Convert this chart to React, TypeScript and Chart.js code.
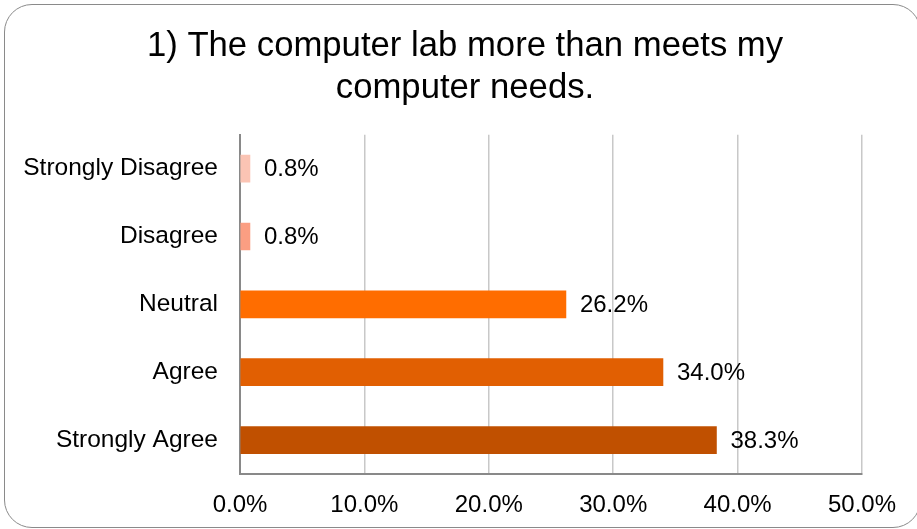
import React, { useEffect, useRef } from "react";
import { Chart, registerables } from "chart.js";

Chart.register(...registerables);

const titleLines = ["1) The computer lab more than meets my", "computer needs."];
const categories = ["Strongly Disagree", "Disagree", "Neutral", "Agree", "Strongly Agree"];
const values = [0.8, 0.8, 26.2, 34.0, 38.3];
const barColors = ["#FBC4B4", "#FB9E82", "#FF6D00", "#E15F02", "#C05000"];
const xTicks = [0, 10, 20, 30, 40, 50];

const FONT = "'Liberation Sans', Arial, sans-serif";

const dataLabelPlugin = {
  id: "dataLabels",
  afterDatasetsDraw(chart: any) {
    const ctx = chart.ctx;
    const meta = chart.getDatasetMeta(0);
    ctx.save();
    ctx.font = `24px ${FONT}`;
    ctx.fillStyle = "#000";
    ctx.textAlign = "left";
    ctx.textBaseline = "middle";
    meta.data.forEach((bar: any, i: number) => {
      ctx.fillText(values[i].toFixed(1) + "%", bar.x + 14, bar.y + 1);
    });
    ctx.restore();
  },
};

export default function App() {
  const ref = useRef<HTMLCanvasElement>(null);
  useEffect(() => {
    const chart = new Chart(ref.current!, {
      type: "bar",
      data: {
        labels: categories,
        datasets: [
          {
            data: values,
            backgroundColor: barColors,
            borderWidth: 0,
            barThickness: 27,
          },
        ],
      },
      options: {
        indexAxis: "y",
        animation: false,
        responsive: false,
        devicePixelRatio: 1,
        layout: { padding: { left: 22, right: 9, top: 0, bottom: -7 } },
        plugins: {
          legend: { display: false },
          tooltip: { enabled: false },
          title: {
            display: true,
            text: titleLines,
            color: "#000",
            font: { family: FONT, size: 34.7, weight: "normal", lineHeight: 1.22 },
            padding: { top: 25, bottom: 25 },
          },
        },
        scales: {
          x: {
            min: 0,
            max: 50,
            afterBuildTicks: (axis: any) => {
              axis.ticks = xTicks.map((v) => ({ value: v }));
            },
            ticks: {
              color: "#000",
              font: { family: FONT, size: 24, lineHeight: 1.0 },
              padding: 19,
              maxRotation: 0,
              callback: (v: any) => Number(v).toFixed(1) + "%",
            },
            grid: { color: "#C8C8C8", lineWidth: 1.5, drawTicks: false },
            border: { display: true, color: "#898989", width: 2 },
          },
          y: {
            afterFit: (axis: any) => {
              axis.width = 218;
            },
            ticks: {
              color: "#000",
              font: { family: FONT, size: 24.5 },
              padding: 22,
            },
            grid: { display: false, drawTicks: false },
            border: { display: true, color: "#898989", width: 2 },
          },
          spacer: {
            type: "linear",
            position: "right",
            axis: "y",
            ticks: { display: false },
            grid: { display: false, drawTicks: false },
            border: { display: false },
            afterFit: (axis: any) => {
              axis.width = 46;
            },
          },
        },
      },
      plugins: [dataLabelPlugin],
    });
    return () => chart.destroy();
  }, []);
  return (
    <div style={{ position: "absolute", left: 0, top: 0, width: 917, height: 529, overflow: "hidden", background: "#fff" }}>
      <canvas ref={ref} width={917} height={529} style={{ position: "absolute", left: 0, top: 0 }} />
      <div
        style={{
          position: "absolute",
          left: 4,
          top: 4,
          width: 917,
          height: 524,
          boxSizing: "border-box",
          border: "1.5px solid #8a8a8a",
          borderRadius: 28,
          pointerEvents: "none",
        }}
      />
    </div>
  );
}
